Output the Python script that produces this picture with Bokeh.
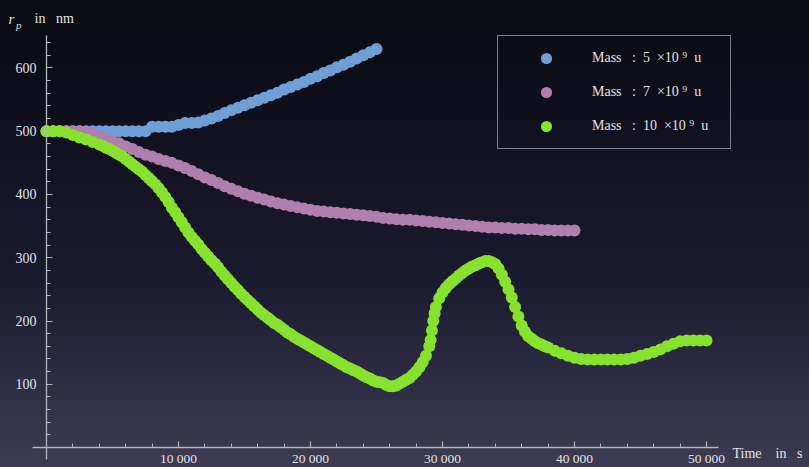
from bokeh.plotting import figure
from bokeh.models import FixedTicker, Label, Legend, LegendItem, GlobalInlineStyleSheet
from bokeh.embed import file_html
from bokeh.resources import INLINE

# ---------------- data ----------------
blue_time = [0, 500, 1000, 1500, 2000, 2500, 3000, 3500, 4000, 4500,
             5000, 5500, 6000, 6500, 7000, 7500, 8000, 8500, 9000, 9500,
             10000, 10500, 11000, 11500, 12000, 12500, 13000, 13500, 14000, 14500,
             15000, 15500, 16000, 16500, 17000, 17500, 18000, 18500, 19000, 19500,
             20000, 20500, 21000, 21500, 22000, 22500, 23000, 23500, 24000, 24500,
             25000]
blue_r = [500, 500, 500, 500, 500, 500, 500, 500, 500, 500,
          500, 500, 500, 500, 500, 500, 507, 507, 507, 507,
          510, 513, 513, 514, 517, 520, 524, 529, 533, 537,
          541, 545, 549, 553, 557, 561, 566, 570, 574, 578,
          583, 587, 592, 596, 601, 605, 610, 615, 620, 625,
          630]

purple_time = [0, 500, 1000, 1500, 2000, 2500, 3000, 3500, 4000, 4500,
               5000, 5500, 6000, 6500, 7000, 7500, 8000, 8500, 9000, 9500,
               10000, 10500, 11000, 11500, 12000, 12500, 13000, 13500, 14000, 14500,
               15000, 15500, 16000, 16500, 17000, 17500, 18000, 18500, 19000, 19500,
               20000, 20500, 21000, 21500, 22000, 22500, 23000, 23500, 24000, 24500,
               25000, 25500, 26000, 26500, 27000, 27500, 28000, 28500, 29000, 29500,
               30000, 30500, 31000, 31500, 32000, 32500, 33000, 33500, 34000, 34500,
               35000, 35500, 36000, 36500, 37000, 37500, 38000, 38500, 39000, 39500,
               40000]
purple_r = [500, 500, 500, 500, 500, 500, 499, 496, 492, 489,
            485, 481, 476, 472, 467, 463, 460, 456, 453, 450,
            446, 442, 437, 432, 427, 423, 418, 413, 409, 405,
            401, 398, 395, 392, 389, 386, 384, 382, 380, 378,
            376, 374, 373, 372, 371, 370, 369, 368, 367, 366,
            365, 363, 362, 361, 360, 360, 359, 358, 357, 356,
            355, 354, 353, 352, 351, 350, 349, 348, 348, 347,
            347, 346, 346, 345, 345, 344, 344, 343, 343, 343,
            343]

green_time = [0, 500, 1000, 1500, 2000, 2500, 3000, 3500,
              4000, 4250, 4500, 4750, 5000, 5250, 5500, 5750, 6000, 6250, 6500, 6750, 7000, 7250, 7500, 7750,
              8000, 8250, 8500, 8750, 9000, 9250, 9500, 9750, 10000, 10250, 10500, 10750, 11000, 11250, 11500, 11750,
              12000, 12250, 12500, 12750, 13000, 13250, 13500, 13750, 14000, 14250, 14500, 14750, 15000, 15250, 15500, 15750,
              16000, 16250, 16500, 16750, 17000, 17250, 17500, 17750, 18000, 18250, 18500, 18750, 19000, 19250, 19500, 19750,
              20000, 20250, 20500, 20750, 21000, 21250, 21500, 21750, 22000, 22250, 22500, 22750, 23000, 23250, 23500, 23750,
              24000, 24250, 24500, 24750, 25000, 25250, 25500, 25750, 26000, 26250, 26500, 26750, 27000, 27250, 27500, 27750,
              28000, 28250, 28500, 28750, 29000, 29100, 29200, 29300, 29400, 29500, 29750,
              30000, 30250, 30500, 30750, 31000, 31250, 31500, 31750, 32000, 32250, 32500, 32750, 33000, 33250, 33500, 33750,
              34000, 34250, 34500, 34750, 35000, 35250, 35500, 35750, 36000, 36250, 36500, 36750, 37000, 37250, 37500, 37750,
              38000, 38500, 39000, 39500, 40000, 40500, 41000, 41500, 42000, 42500, 43000, 43500, 44000, 44500, 45000, 45500,
              46000, 46500, 47000, 47500, 48000, 48500, 49000, 49500, 50000]
green_r = [500, 500, 500, 498, 494, 490, 487, 483,
           479, 477, 474, 472, 469, 466, 463, 460, 456, 452, 448, 444, 440, 436, 431, 426,
           421, 416, 410, 403, 396, 388, 379, 372, 364, 356, 348, 340, 333, 327, 321, 314,
           308, 302, 296, 291, 285, 278, 272, 266, 260, 254, 249, 243, 238, 233, 228, 223,
           218, 213, 209, 205, 201, 197, 194, 190, 186, 182, 179, 175, 172, 169, 166, 163,
           160, 157, 154, 151, 148, 145, 142, 139, 136, 133, 130, 127, 125, 122, 120, 117,
           114, 111, 109, 106, 104, 103, 102, 99, 97, 97, 98, 101, 104, 107, 110, 115,
           120, 127, 135, 145, 160, 170, 185, 200, 212, 222, 236,
           245, 252, 258, 263, 267, 272, 276, 280, 283, 286, 288, 291, 293, 295, 295, 293,
           290, 283, 273, 262, 250, 237, 222, 207, 193, 183, 176, 172, 168, 165, 163, 160,
           158, 153, 149, 145, 142, 140, 139, 139, 139, 139, 139, 139, 140, 142, 145, 148,
           151, 155, 160, 164, 168, 169, 169, 169, 169]

NB = "\u00a0"
series_labels = [
    f"Mass{NB*3}:{NB*2}5{NB*2}×10{NB}⁹{NB*2}u{NB*4}",
    f"Mass{NB*3}:{NB*2}7{NB*2}×10{NB}⁹{NB*2}u{NB*4}",
    f"Mass{NB*3}:{NB*2}10{NB*2}×10{NB}⁹{NB*2}u{NB*4}",
]
series_colors = ["#6e9fd6", "#b07fad", "#87e22f"]

x_major_ticks = [10000, 20000, 30000, 40000, 50000]
x_tick_labels = ["10 000", "20 000", "30 000", "40 000", "50 000"]
y_major_ticks = [100, 200, 300, 400, 500, 600]
x_minor_ticks = [t for t in range(2000, 50001, 2000) if t % 10000 != 0]
y_minor_ticks = [v for v in range(20, 641, 20) if v % 100 != 0]
x_axis_extent = (-1060, 50910)
y_axis_extent = (-19, 651)

# ---------------- figure ----------------
AXIS = "#b4b4bc"
TEXT = "#e2e2e6"
SERIF = "Liberation Serif"
W, H = 809, 467

p = figure(width=W, height=H, output_backend="svg", toolbar_location=None,
           x_range=(-3485, 57803), y_range=(-31.6, 706.7), min_border=0)
p.border_fill_alpha = 0
p.background_fill_alpha = 0
p.outline_line_color = None
p.grid.visible = False

p.stylesheets = [GlobalInlineStyleSheet(css=(
    "html{min-height:100%;background:linear-gradient(180deg,#0b0b12 0%,#111120 30%,"
    "#1b1b30 60%,#3d3b52 100%);}"
    "body{background:transparent;}"))]

renderers = []
for t, r, c in zip([blue_time, purple_time, green_time], [blue_r, purple_r, green_r], series_colors):
    renderers.append(p.scatter(t, r, size=12, fill_color=c, line_color=None))

# axes crossing at the origin
xa = p.xaxis[0]
ya = p.yaxis[0]
xa.fixed_location = 0
ya.fixed_location = 0
xa.bounds = x_axis_extent
ya.bounds = y_axis_extent
xa.ticker = FixedTicker(ticks=x_major_ticks, minor_ticks=x_minor_ticks)
ya.ticker = FixedTicker(ticks=y_major_ticks, minor_ticks=y_minor_ticks)
xa.major_label_overrides = {t: s for t, s in zip(x_major_ticks, x_tick_labels)}
for ax in (xa, ya):
    ax.axis_line_color = AXIS
    ax.axis_line_width = 1.3
    ax.major_tick_line_color = AXIS
    ax.minor_tick_line_color = AXIS
    ax.major_tick_line_width = 1.2
    ax.minor_tick_line_width = 1.0
    ax.major_tick_in = 6
    ax.major_tick_out = 0
    ax.minor_tick_in = 4
    ax.minor_tick_out = 0
    ax.major_label_text_font = SERIF
    ax.major_label_text_font_size = "14px"
    ax.major_label_text_color = TEXT
xa.major_label_text_font_size = "13.5px"
xa.major_label_standoff = 3
ya.major_label_standoff = 10

# axis labels (screen units from the lower-left corner)
p.add_layout(Label(x=8, y=H - 18, x_units="screen", y_units="screen", text="r",
                   text_font=SERIF, text_font_style="italic", text_font_size="15px",
                   text_color=TEXT, text_baseline="alphabetic"))
p.add_layout(Label(x=15.5, y=H - 24, x_units="screen", y_units="screen", text="p",
                   text_font=SERIF, text_font_style="italic", text_font_size="11px",
                   text_color=TEXT, text_baseline="alphabetic"))
p.add_layout(Label(x=34, y=H - 18, x_units="screen", y_units="screen",
                   text=f"in{NB*3}nm",
                   text_font=SERIF, text_font_size="14px",
                   text_color=TEXT, text_baseline="alphabetic"))
p.add_layout(Label(x=732, y=H - 453, x_units="screen", y_units="screen",
                   text=f"Time{NB*4}in{NB*3}s",
                   text_font=SERIF, text_font_size="14px",
                   text_color=TEXT, text_baseline="alphabetic"))

legend = Legend(items=[LegendItem(label=l, renderers=[r]) for l, r in zip(series_labels, renderers)],
                location=(497, H - 149))
legend.padding = 8
legend.margin = 0
legend.spacing = 6
legend.glyph_width = 80
legend.glyph_height = 28
legend.label_height = 28
legend.label_standoff = 6
legend.label_text_font = SERIF
legend.label_text_font_size = "14px"
legend.label_text_color = TEXT
legend.background_fill_alpha = 0
legend.border_line_color = "#f0f0f0"
legend.border_line_width = 1.2
p.add_layout(legend)

open("out.html", "w").write(file_html(p, INLINE))
